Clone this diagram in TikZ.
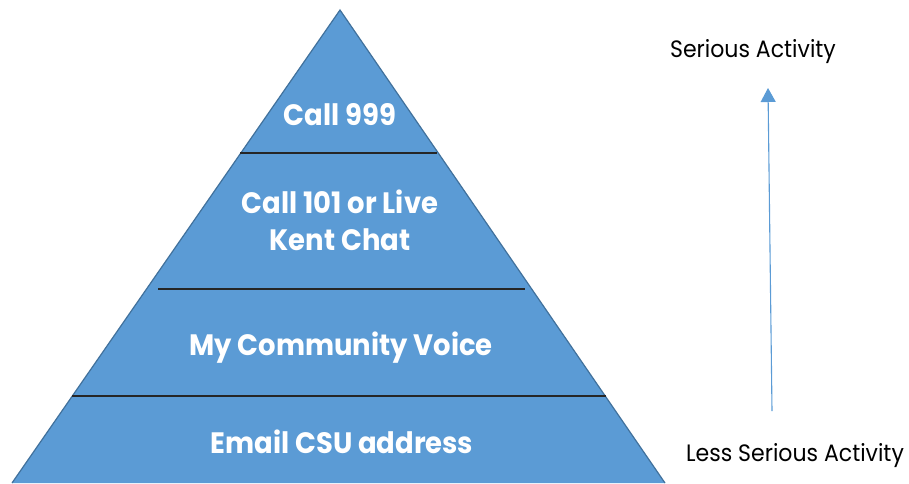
\documentclass[tikz,border=0pt]{standalone}
\usepackage{fontspec}
\setmainfont{Poppins}[FakeStretch=0.93]
\usetikzlibrary{arrows.meta}
\definecolor{pyrfill}{HTML}{5B9BD5}
\definecolor{pyredge}{HTML}{41719C}
\definecolor{divline}{HTML}{262626}
\tikzset{
  tier/.style={text=white, font=\bfseries\fontsize{29.5}{37}\selectfont, align=center, inner sep=0pt, anchor=base},
  sidelabel/.style={text=black, font=\fontsize{23.7}{26}\selectfont, inner sep=0pt, anchor=base},
  divider/.style={draw=divline, line width=1.2pt},
  levelarrow/.style={draw=pyrfill, line width=1.1pt, -{Triangle[length=14pt,width=15pt]}}
}
\begin{document}
\begin{tikzpicture}[x=1pt,y=-1pt]
\useasboundingbox (0,0) rectangle (909,483);
\fill[pyrfill] (12,483) -- (340,10) -- (665,483) -- cycle;
\draw[pyredge, line width=1.2pt] (12,483) -- (340,10) -- (665,483);
\draw[divider] (240,153) -- (437,153);
\draw[divider] (158,289) -- (525,289);
\draw[divider] (72,396) -- (606,396);
\node[tier] (t1) at (340,125) {Call 999};
\node[tier] (t2) at (340,250) {Call 101 or Live\\Kent Chat};
\node[tier] (t3) at (341,355) {My Community Voice};
\node[tier] (t4) at (342,453) {Email CSU address};
\node[sidelabel] (top) at (753,57) {Serious Activity};
\node[sidelabel] (bot) at (795,461) {Less Serious Activity};
\coordinate (arrlow) at (772,411);
\coordinate (arrhigh) at (768,88);
\draw[levelarrow] (arrlow) -- (arrhigh);
\end{tikzpicture}
\end{document}
